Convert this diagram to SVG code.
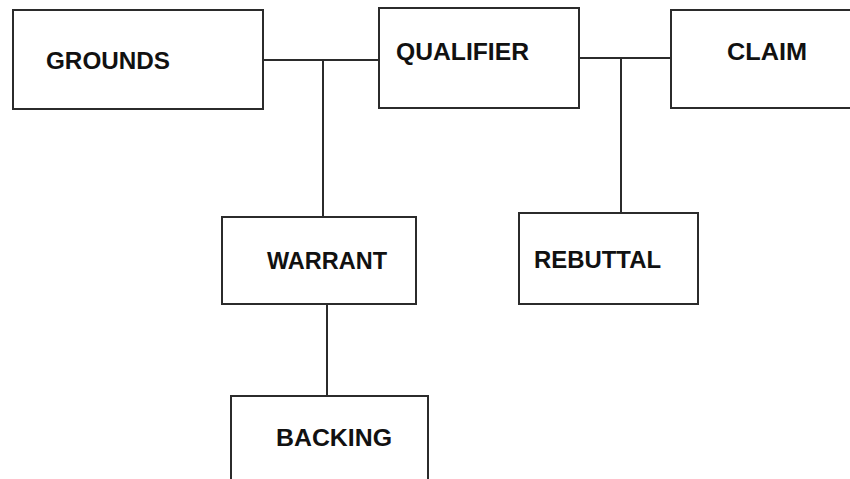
<svg xmlns="http://www.w3.org/2000/svg" width="850" height="479" viewBox="0 0 850 479">
<style>
.box{fill:#fff;stroke:#2b2b2b;stroke-width:2}
.ln{fill:none;stroke:#2b2b2b;stroke-width:2}
.t{font-family:"Liberation Sans",Arial,sans-serif;font-weight:bold;font-size:24px;fill:#111}
</style>
<rect width="850" height="479" fill="#fff"/>
<g id="connectors">
<path class="ln" d="M263 60H379M323 60V217"/>
<path class="ln" d="M579 58H671M621 58V213"/>
<path class="ln" d="M327 304V396"/>
</g>
<g id="grounds"><rect class="box" x="13" y="10" width="250" height="99"/><text class="t" x="46" y="69" textLength="124" lengthAdjust="spacingAndGlyphs">GROUNDS</text></g>
<g id="qualifier"><rect class="box" x="379" y="8" width="200" height="100"/><text class="t" x="396" y="60" textLength="133" lengthAdjust="spacingAndGlyphs">QUALIFIER</text></g>
<g id="claim"><rect class="box" x="671" y="10" width="190" height="98"/><text class="t" x="727" y="60" textLength="80" lengthAdjust="spacingAndGlyphs">CLAIM</text></g>
<g id="warrant"><rect class="box" x="222" y="217" width="194" height="87"/><text class="t" x="267" y="269" textLength="120" lengthAdjust="spacingAndGlyphs">WARRANT</text></g>
<g id="rebuttal"><rect class="box" x="519" y="213" width="179" height="91"/><text class="t" x="534" y="268" textLength="127" lengthAdjust="spacingAndGlyphs">REBUTTAL</text></g>
<g id="backing"><rect class="box" x="231" y="396" width="197" height="100"/><text class="t" x="276" y="446" textLength="116" lengthAdjust="spacingAndGlyphs">BACKING</text></g>
</svg>
